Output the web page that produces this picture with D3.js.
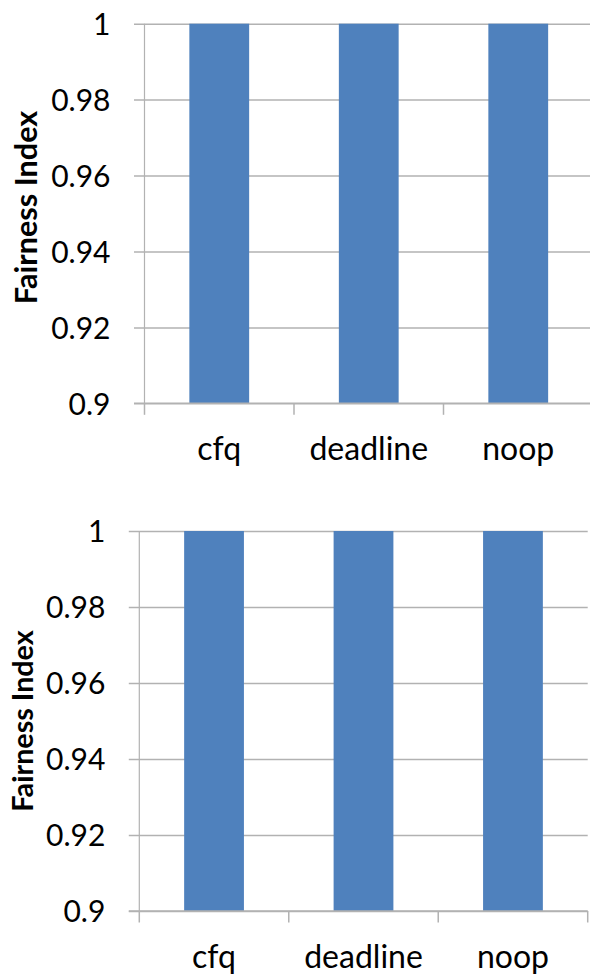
<!DOCTYPE html>
<html>
<head>
<meta charset="utf-8">
<script src="https://cdn.jsdelivr.net/npm/d3@7"></script>
<style>
  html, body { margin: 0; padding: 0; background: #fff; }
  svg { display: block; }
</style>
</head>
<body>
<svg id="chart" width="590" height="974"></svg>
<script>
// Scheduler names along the x axis
const categories = ["cfq", "deadline", "noop"];
// Fairness index per scheduler, one array per panel
const topValues = [1, 1, 1];
const bottomValues = [1, 1, 1];
// Y axis ticks and their labels
const yTicks = [0.9, 0.92, 0.94, 0.96, 0.98, 1];
const yTickLabels = ["0.9", "0.92", "0.94", "0.96", "0.98", "1"];
const yDomain = [0.9, 1];
const yTitle = "Fairness Index";

const FONT = "Lato, 'Open Sans', sans-serif";
const BAR = "#4F81BD";
const GRID = "#b2b2b2";

const svg = d3.select("#chart");

function drawPanel(values, box) {
  const g = svg.append("g");
  const x = d3.scaleBand().domain(categories).range([box.left, box.right]).paddingInner(0).paddingOuter(0);
  const y = d3.scaleLinear().domain(yDomain).range([box.bottom, box.top]);

  // horizontal gridlines + tick labels
  const axis = d3.axisLeft(y)
    .tickValues(yTicks)
    .tickFormat((d, i) => yTickLabels[i])
    .tickSize(-(box.right - box.left + 10.5))
    .tickPadding(23.5);
  const ag = g.append("g")
    .attr("transform", `translate(${box.left - 10.5},0)`)
    .call(axis);
  ag.select(".domain").remove();
  ag.selectAll(".tick line").attr("stroke", GRID).attr("stroke-width", 1.5);
  ag.selectAll(".tick text")
    .attr("font-family", FONT)
    .attr("font-size", 30)
    .attr("fill", "#000")
    .attr("dy", "0.36em");

  // vertical axis line
  g.append("line")
    .attr("x1", box.left).attr("x2", box.left)
    .attr("y1", y(yDomain[1])).attr("y2", y(yDomain[0]))
    .attr("stroke", GRID).attr("stroke-width", 1.2);

  // bars
  g.selectAll("rect.bar").data(values).join("rect")
    .attr("class", "bar")
    .attr("x", (d, i) => x(categories[i]) + x.bandwidth() * 0.3)
    .attr("width", x.bandwidth() * 0.4)
    .attr("y", d => y(d))
    .attr("height", d => y(yDomain[0]) - y(d))
    .attr("fill", BAR);

  // baseline redrawn over bars
  g.append("line")
    .attr("x1", box.left - 10.5).attr("x2", box.right)
    .attr("y1", y(yDomain[0])).attr("y2", y(yDomain[0]))
    .attr("stroke", GRID).attr("stroke-width", 1.5);

  // category boundary ticks below the baseline
  const bounds = categories.map(c => x(c)).concat([box.right]);
  g.selectAll("line.ctick").data(bounds).join("line")
    .attr("class", "ctick")
    .attr("x1", d => d).attr("x2", d => d)
    .attr("y1", y(yDomain[0])).attr("y2", y(yDomain[0]) + 11.5)
    .attr("stroke", GRID).attr("stroke-width", 1.5);

  // category labels
  g.selectAll("text.cat").data(categories).join("text")
    .attr("class", "cat")
    .attr("x", d => x(d) + x.bandwidth() / 2)
    .attr("y", y(yDomain[0]) + 56.5)
    .attr("text-anchor", "middle")
    .attr("font-family", FONT)
    .attr("font-size", 32)
    .attr("fill", "#000")
    .text(d => d);

  // y axis title
  g.append("text")
    .attr("transform", `translate(${box.titleX},${box.titleY}) rotate(-90)`)
    .attr("text-anchor", "middle")
    .attr("font-family", FONT)
    .attr("font-weight", "bold")
    .attr("font-size", box.titleSize)
    .attr("fill", "#000")
    .text(yTitle);
}

drawPanel(topValues, { left: 144.5, right: 593, top: 23.7, bottom: 403.3, titleX: 37, titleY: 207.5, titleSize: 30.6 });
drawPanel(bottomValues, { left: 139.3, right: 587.7, top: 531, bottom: 911, titleX: 33, titleY: 721, titleSize: 28.7 });
</script>
</body>
</html>
